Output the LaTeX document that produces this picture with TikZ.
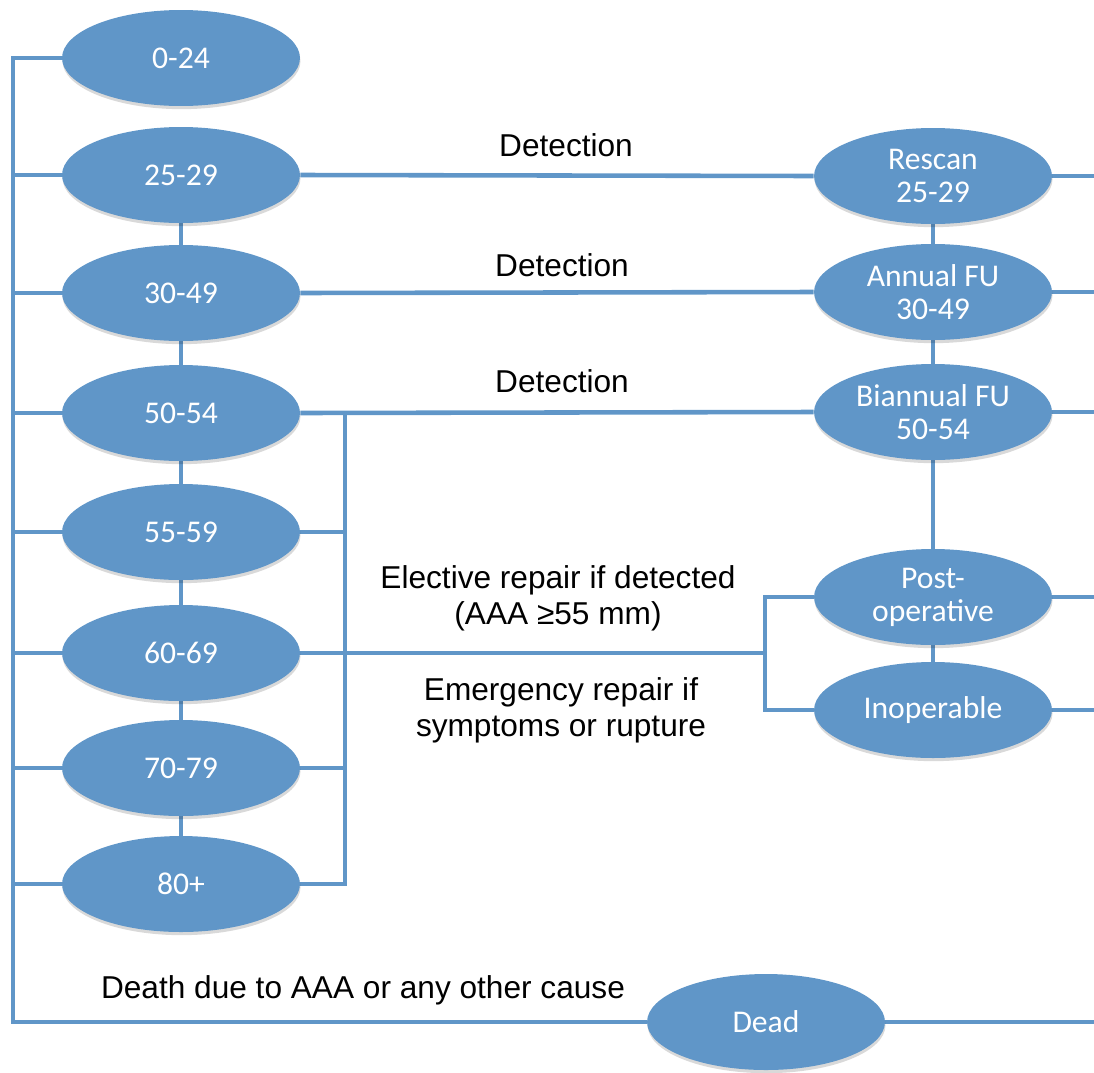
\documentclass[tikz,border=0pt]{standalone}
\usepackage{fontspec}
\setmainfont{Liberation Sans}
\newfontfamily\calib{Carlito}
\usepackage{tikz}
\usetikzlibrary{shapes.geometric,backgrounds,shadows}
\definecolor{aaablue}{RGB}{96,150,200}
\tikzset{
  ovalnode/.style={ellipse,fill=aaablue,draw=none,minimum width=4.76cm,minimum height=1.92cm,
    inner sep=0pt,text=white,align=center,font=\calib\fontsize{18}{18.7}\selectfont,
    drop shadow={shadow xshift=0.3pt,shadow yshift=-1.8pt,opacity=0.15,fill=black}},
  link/.style={draw=aaablue,line width=2.6pt},
  lbl/.style={font=\fontsize{18}{20.5}\selectfont,align=center,inner sep=1pt}
}

\begin{document}
\begin{tikzpicture}[x=0.02cm,y=-0.02cm]
\useasboundingbox (0,0) rectangle (1094,1072);
% ---- AGE GROUPS ----
\foreach \nm/\txt/\y in {age0/0-24/58,age25/25-29/175,age30/30-49/293,age50/50-54/413,
  age55/55-59/532,age60/60-69/653,age70/70-79/768,age80/80+/884}{
  \node[ovalnode] (\nm) at (181,\y) {\txt};}
% ---- SURVEILLANCE / OUTCOME ----
\node[ovalnode] (rescan) at (933,176) {Rescan\\25-29};
\node[ovalnode] (annual) at (933,292) {Annual FU\\30-49};
\node[ovalnode] (biannual) at (933,412) {Biannual FU\\50-54};
\node[ovalnode] (postop) at (933,597) {Post-\\operative};
\node[ovalnode] (inop) at (933,710) {Inoperable};
\node[ovalnode] (dead) at (766,1022) {Dead};
\coordinate (spinetop) at (13,58);
\coordinate (spinebot) at (13,1022);
\coordinate (rim) at (1094,1022);
\coordinate (brk) at (345,413);
\coordinate (fork) at (765,653);
% ---- LABELS ----
\node[lbl] (det25) at (566,145) {Detection};
\node[lbl] (det30) at (562,265) {Detection};
\node[lbl] (det50) at (562,381) {Detection};
\node[lbl] (elect) at (558,598) {Elective repair if detected\\(AAA ≥55 mm)};
\node[lbl] (emerg) at (561,710) {Emergency repair if\\symptoms or rupture};
\node[lbl] (death) at (363,990) {Death due to AAA or any other cause};
% ---- CONNECTORS ----
\begin{scope}[on background layer]
\draw[link] (age0.west) -- (spinetop) -- (spinebot) -- (dead.west);
\draw[link] (dead.east) -- (rim);
\foreach \nm in {age25,age30,age50,age55,age60,age70,age80}
  \draw[link] (\nm.west) -- (\nm.west -| spinetop);
\foreach \a/\b in {age25/age30,age30/age50,age50/age55,age55/age60,age60/age70,age70/age80,
  rescan/annual,annual/biannual,biannual/postop,postop/inop}
  \draw[link] (\a.south) -- (\b.north);
\draw[link] (age25.east) -- (rescan.west);
\draw[link] (age30.east) -- (annual.west);
\draw[link] (age50.east) -- (biannual.west);
\draw[link] (brk) -- (brk |- age80.east) -- (age80.east);
\foreach \nm in {age55,age70}
  \draw[link] (\nm.east) -- (\nm.east -| brk);
\draw[link] (age60.east) -- (fork);
\draw[link] (postop.west) -| (fork) |- (inop.west);
\foreach \nm in {rescan,annual,biannual,postop,inop}
  \draw[link] (\nm.east) -- (\nm.east -| rim);
\end{scope}
\end{tikzpicture}
\end{document}
